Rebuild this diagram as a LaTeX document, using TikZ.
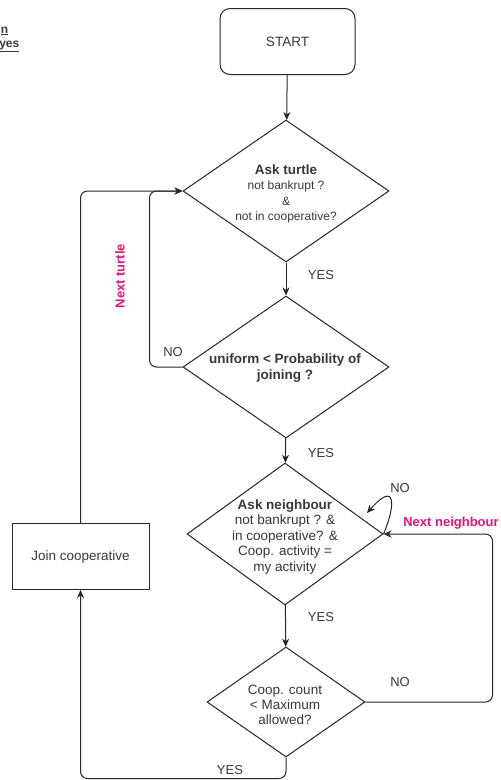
\documentclass[tikz,border=0pt]{standalone}
\usepackage{fontspec}
\setmainfont{Liberation Sans}
\usetikzlibrary{shapes.geometric,arrows.meta}
\definecolor{ink}{HTML}{262626}
\definecolor{txt}{HTML}{383838}
\definecolor{hot}{HTML}{E0157F}
\begin{document}
\begin{tikzpicture}[x=1pt,y=-1pt,
  line/.style={draw=ink, line width=1pt},
  arr/.style={line, rounded corners=7pt, -{Stealth[length=8pt,width=7pt,inset=2.5pt]}},
  dia/.style={diamond, draw=ink, line width=1pt, inner sep=0pt, fill=white},
  boxed/.style={rectangle, draw=ink, line width=1pt, inner sep=0pt, fill=white},
  body/.style={text=txt, align=center, inner sep=0pt, font=\fontsize{13.5}{15.5}\selectfont},
  small/.style={text=txt, align=center, inner sep=0pt, font=\fontsize{12}{15.5}\selectfont},
  lbl/.style={text=txt, inner sep=0pt, font=\fontsize{13}{15}\selectfont},
  note/.style={text=hot, inner sep=0pt, font=\bfseries\fontsize{13}{15}\selectfont}]
\useasboundingbox (0,0) rectangle (501,780);

% fragments of a legend at the top left
\node[text=txt, anchor=base east, inner sep=0pt, font=\bfseries\fontsize{12}{14}\selectfont] (fragA) at (8.5,33) {\underline{n}};
\node[text=txt, anchor=base east, inner sep=0pt, font=\bfseries\fontsize{12}{14}\selectfont] (fragB) at (19.5,47) {\underline{yes}};

% shapes
\node[boxed, rounded corners=10pt, minimum width=135pt, minimum height=66pt] (start) at (287.5,41.5) {};
\node[body] (startT) at (287.5,42) {START};

\node[dia, minimum width=206pt, minimum height=142pt] (d1) at (286,191) {};
\node[small] (d1T) at (286,194) {{\bfseries\fontsize{13.5}{15.5}\selectfont Ask turtle}\\not bankrupt ?\\\&\\not in cooperative?};

\node[dia, minimum width=206pt, minimum height=142pt] (d2) at (286,367) {};
\node[body, font=\bfseries\fontsize{13.5}{16}\selectfont] (d2T) at (285,368) {uniform < Probability of\\joining ?};

\node[dia, minimum width=196pt, minimum height=142pt] (d3) at (285,534) {};
\node[body] (d3T) at (285,537) {{\bfseries Ask neighbour}\\not bankrupt ? \&\\in cooperative? \&\\Coop. activity =\\my activity};

\node[dia, minimum width=158pt, minimum height=110pt] (d4) at (286,702) {};
\node[body, font=\fontsize{13.5}{15}\selectfont] (d4T) at (285,705) {Coop. count\\< Maximum\\allowed?};

\node[boxed, minimum width=137pt, minimum height=66pt] (join) at (80.5,556.5) {};
\node[body] (joinT) at (80.5,557) {Join cooperative};

% bend points of the loops
\coordinate (turtleBend) at (149.5,191);
\coordinate (nbrBend) at (492.5,534);
\coordinate (selfEnd) at (367,513);

% main flow
\draw[arr] (start) -- (d1);
\draw[arr] (d1) -- (d2);
\draw[arr] (d2) -- (d3);
\draw[arr] (d3) -- (d4);

% loops
\draw[arr] (d2.west) -| (turtleBend) -- (d1.west);
\draw[arr] (join.north) |- (d1.west);
\draw[arr] (d4.east) -| (nbrBend) -- (d3.east);
\draw[arr] (d4.south) -- ++(0,21) -| (join.south);
\draw[arr] (d3.east) .. controls (396,505) and (396,480) .. (selfEnd);

% branch labels
\node[lbl] (yes1) at (321,275) {YES};
\node[lbl] (yes2) at (321,453) {YES};
\node[lbl] (yes3) at (321,617) {YES};
\node[lbl] (yes4) at (230,770) {YES};
\node[lbl] (no1) at (173,352) {NO};
\node[lbl] (no2) at (400,488) {NO};
\node[lbl] (no3) at (400,682) {NO};

\node[note, rotate=90] (nextT) at (120,276) {Next turtle};
\node[note] (nextN) at (451,523) {Next neighbour};
\end{tikzpicture}
\end{document}
